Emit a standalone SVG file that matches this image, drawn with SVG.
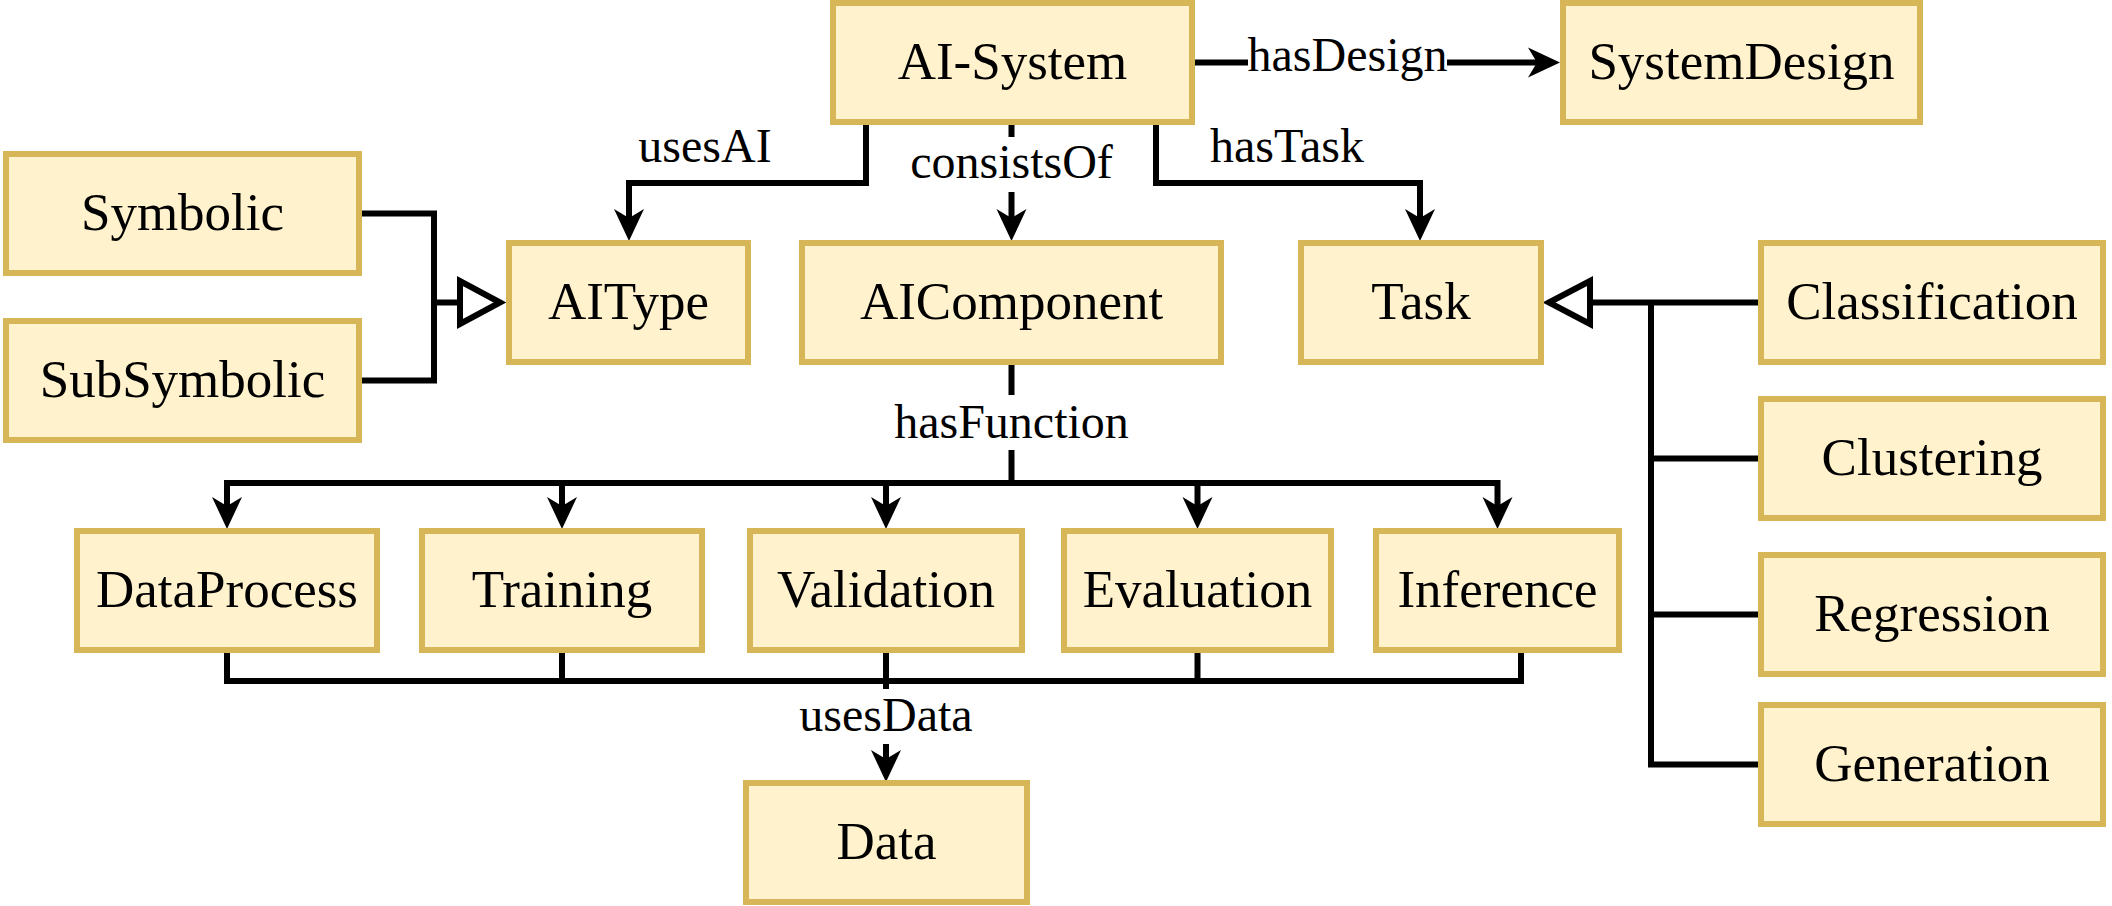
<svg xmlns="http://www.w3.org/2000/svg" xmlns:xlink="http://www.w3.org/1999/xlink" width="2112" height="906" viewBox="0 0 2112 906">
<style>
.node rect{fill:#fff2cc;stroke:#d6b656;stroke-width:6}
.node text{font-family:"Liberation Serif","Times New Roman",serif;font-size:53px;fill:#000;text-anchor:middle}
.edge{fill:none;stroke:#000;stroke-width:6;stroke-linejoin:miter;stroke-linecap:butt}
.gen{fill:#fff;stroke:#000;stroke-width:6;stroke-linejoin:miter}
.lbl{font-family:"Liberation Serif","Times New Roman",serif;font-size:48px;fill:#000;text-anchor:middle}
.bg{fill:#fff}
</style>
<defs>
<path id="ah" d="M0,0 L-15,-32 L0,-23 L15,-32 Z" fill="#000"/>
</defs>
<rect width="2112" height="906" fill="#fff"/>
<g id="connectors">
<!-- hasDesign -->
<path class="edge" d="M1195,62.5 H1540"/>
<use xlink:href="#ah" transform="translate(1560,62.5) rotate(-90)"/>
<!-- usesAI -->
<path class="edge" d="M866,125 V183 H629 V222"/>
<use xlink:href="#ah" transform="translate(629,241)"/>
<!-- consistsOf -->
<path class="edge" d="M1011.5,125 V222"/>
<use xlink:href="#ah" transform="translate(1011.5,241)"/>
<!-- hasTask -->
<path class="edge" d="M1156,125 V183 H1420 V222"/>
<use xlink:href="#ah" transform="translate(1420,241)"/>
<!-- AIType generalization -->
<path class="edge" d="M362,213.5 H434 V380.5 H362"/>
<path class="edge" d="M434,302.5 H460"/>
<polygon class="gen" points="500,302.5 460,281 460,324"/>
<!-- Task generalization -->
<path class="edge" d="M1758,302.5 H1590"/>
<path class="edge" d="M1651,302.5 V764.5 H1758"/>
<path class="edge" d="M1651,458.5 H1758"/>
<path class="edge" d="M1651,614.5 H1758"/>
<polygon class="gen" points="1549,302.5 1590,281 1590,324"/>
<!-- hasFunction -->
<path class="edge" d="M1011.5,365 V483"/>
<path class="edge" d="M227,510 V483 H1497.5 V510"/>
<path class="edge" d="M562,483 V510"/>
<path class="edge" d="M886,483 V510"/>
<path class="edge" d="M1197.5,483 V510"/>
<use xlink:href="#ah" transform="translate(227,529)"/>
<use xlink:href="#ah" transform="translate(562,529)"/>
<use xlink:href="#ah" transform="translate(886,529)"/>
<use xlink:href="#ah" transform="translate(1197.5,529)"/>
<use xlink:href="#ah" transform="translate(1497.5,529)"/>
<!-- usesData -->
<path class="edge" d="M227,653 V681 H1521 V653"/>
<path class="edge" d="M562,653 V681"/>
<path class="edge" d="M1197.5,653 V681"/>
<path class="edge" d="M886,653 V763"/>
<use xlink:href="#ah" transform="translate(886,782)"/>
<!-- labels -->
<rect class="bg" x="1248" y="30" width="199" height="55"/>
<text class="lbl" x="1347.5" y="71">hasDesign</text>
<text class="lbl" x="705" y="162">usesAI</text>
<rect class="bg" x="908" y="137" width="207" height="55"/>
<text class="lbl" x="1011.5" y="178">consistsOf</text>
<text class="lbl" x="1287" y="162">hasTask</text>
<rect class="bg" x="894" y="395" width="235" height="55"/>
<text class="lbl" x="1011.5" y="438">hasFunction</text>
<rect class="bg" x="800" y="689" width="172" height="55"/>
<text class="lbl" x="886" y="731">usesData</text>
</g>
<g id="ai-system" class="node"><rect x="833" y="3" width="359" height="119"/><text x="1012.5" y="78.5">AI-System</text></g>
<g id="system-design" class="node"><rect x="1563" y="3" width="357" height="119"/><text x="1741.5" y="78.5">SystemDesign</text></g>
<g id="symbolic" class="node"><rect x="6" y="154" width="353" height="119"/><text x="182.5" y="229.5">Symbolic</text></g>
<g id="subsymbolic" class="node"><rect x="6" y="321" width="353" height="119"/><text x="182.5" y="396.5">SubSymbolic</text></g>
<g id="aitype" class="node"><rect x="509" y="243" width="239" height="119"/><text x="628.5" y="318.5">AIType</text></g>
<g id="aicomponent" class="node"><rect x="802" y="243" width="419" height="119"/><text x="1011.5" y="318.5">AIComponent</text></g>
<g id="task" class="node"><rect x="1301" y="243" width="240" height="119"/><text x="1421" y="318.5">Task</text></g>
<g id="classification" class="node"><rect x="1761" y="243" width="342" height="119"/><text x="1932" y="318.5">Classification</text></g>
<g id="clustering" class="node"><rect x="1761" y="399" width="342" height="119"/><text x="1932" y="474.5">Clustering</text></g>
<g id="regression" class="node"><rect x="1761" y="555" width="342" height="119"/><text x="1932" y="630.5">Regression</text></g>
<g id="generation" class="node"><rect x="1761" y="705" width="342" height="119"/><text x="1932" y="780.5">Generation</text></g>
<g id="dataprocess" class="node"><rect x="77" y="531" width="300" height="119"/><text x="227" y="606.5">DataProcess</text></g>
<g id="training" class="node"><rect x="422" y="531" width="280" height="119"/><text x="562" y="606.5">Training</text></g>
<g id="validation" class="node"><rect x="750" y="531" width="272" height="119"/><text x="886" y="606.5">Validation</text></g>
<g id="evaluation" class="node"><rect x="1064" y="531" width="267" height="119"/><text x="1197.5" y="606.5">Evaluation</text></g>
<g id="inference" class="node"><rect x="1376" y="531" width="243" height="119"/><text x="1497.5" y="606.5">Inference</text></g>
<g id="data" class="node"><rect x="746" y="783" width="281" height="119"/><text x="886.5" y="858.5">Data</text></g>
</svg>
